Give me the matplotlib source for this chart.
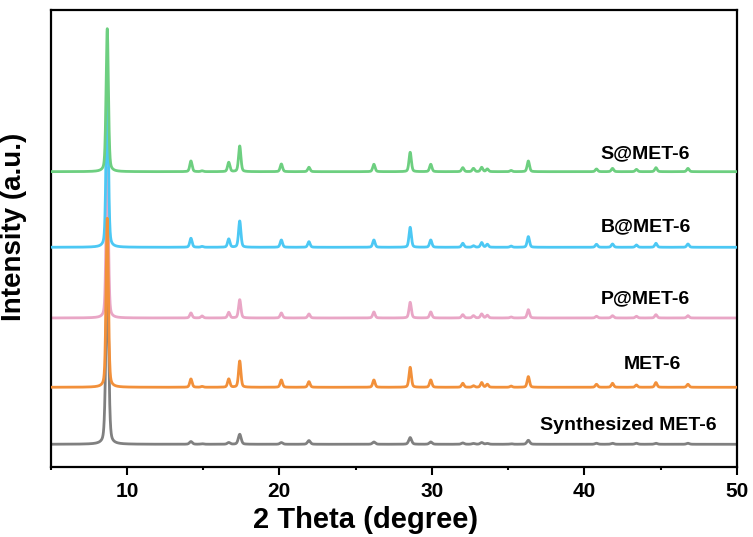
import numpy as np
import matplotlib
matplotlib.use("Agg")
import matplotlib.pyplot as plt
from matplotlib.ticker import MultipleLocator

plt.rcParams['font.family'] = ['Liberation Sans', 'DejaVu Sans']
plt.rcParams['font.weight'] = 'bold'

# ---- data ----
peak_pos = [8.71, 14.2, 14.93, 16.68, 17.40, 20.13, 21.94, 26.2, 28.58, 29.93,
            32.03, 32.73, 33.27, 33.64, 35.2, 36.33, 40.8, 41.85, 43.42, 44.7, 46.8]

synth_h = [165, 2.7, 0.5, 1.7, 10, 1.7, 3.7, 2.3, 6.7, 2.3, 1.3, 0.8, 1.7, 0.8,
           0.5, 4, 1, 1, 1, 1, 1]
met_h = [169, 8.3, 0.8, 8.3, 26.3, 7.3, 5.6, 7.3, 20, 7.3, 4, 1.5, 4.7, 3,
         1.2, 10.7, 3, 4, 2.3, 4.7, 3]
p_h = [150, 5, 2, 5.6, 18.3, 5, 4, 6, 15.7, 6, 3.3, 2.3, 4, 2.7,
       1, 8.3, 1.7, 2.3, 1.7, 3.3, 2.3]
b_h = [169, 9, 0.8, 8.3, 26.3, 7.3, 5.6, 7.3, 20, 7.3, 4, 1.5, 4.7, 3,
       1.2, 10.7, 3, 3.3, 2.3, 4, 3.3]
s_h = [143, 10.7, 0.8, 9.3, 25.7, 7.7, 4.4, 7.4, 19.4, 7.4, 4, 3.3, 4.3, 2.7,
       1.2, 10.7, 2.7, 3.3, 2.3, 4, 3.3]

series_names = ["Synthesized MET-6", "MET-6", "P@MET-6", "B@MET-6", "S@MET-6"]
series_heights = [synth_h, met_h, p_h, b_h, s_h]
offsets = [22.7, 79.7, 149, 219.7, 295.3]
colors = ["#808080", "#F2903A", "#E9A6C6", "#4CC8F4", "#6DCF80"]
zorders = [1, 4, 2, 3, 5]
fwhm = [0.22, 0.18, 0.18, 0.18, 0.18]
label_xy = [(42.92, 41), (44.45, 102), (44.0, 168), (44.06, 240), (44.02, 313)]

# ---- figure ----
fig = plt.figure(figsize=(7.53, 5.37), dpi=100)
ax = fig.add_axes([0.0673, 0.1304, 0.9784 - 0.0673, 0.9814 - 0.1304])

x = np.linspace(5, 50, 9001)


def profile(heights, w):
    y = np.zeros_like(x)
    for p, h in zip(peak_pos, heights):
        g = np.exp(-4 * np.log(2) * ((x - p) / w) ** 2)
        l = 1.0 / (1 + 4 * ((x - p) / w) ** 2)
        y += h * (0.65 * g + 0.35 * l)
    return y


for name, hs, off, c, z, w, (lx, ly) in zip(series_names, series_heights, offsets,
                                             colors, zorders, fwhm, label_xy):
    ax.plot(x, off + profile(hs, w), color=c, lw=2.0, zorder=z)
    ax.text(lx, ly, name, ha='center', va='center', fontsize=14,
            fontweight='bold', color='black')

ax.set_xlim(5, 50)
ax.set_ylim(0, 457)
ax.set_yticks([])
ax.xaxis.set_major_locator(MultipleLocator(10))
ax.xaxis.set_minor_locator(MultipleLocator(5))
ax.tick_params(axis='x', which='major', direction='out', length=5.5, width=1.5,
               labelsize=15, pad=5)
ax.tick_params(axis='x', which='minor', direction='out', length=2.5, width=1.5)
for lab in ax.get_xticklabels():
    lab.set_fontweight('bold')
for s in ax.spines.values():
    s.set_linewidth(1.6)

ax.set_xlabel("2 Theta (degree)", fontsize=21, fontweight='bold')
ax.set_ylabel("Intensity (a.u.)", fontsize=20, fontweight='bold')
ax.xaxis.set_label_coords((366 - 50.7) / 686.0, -0.085)
ax.yaxis.set_label_coords(-0.034, (467 - 227) / 457.0)

fig.savefig("out.png", dpi=100)
